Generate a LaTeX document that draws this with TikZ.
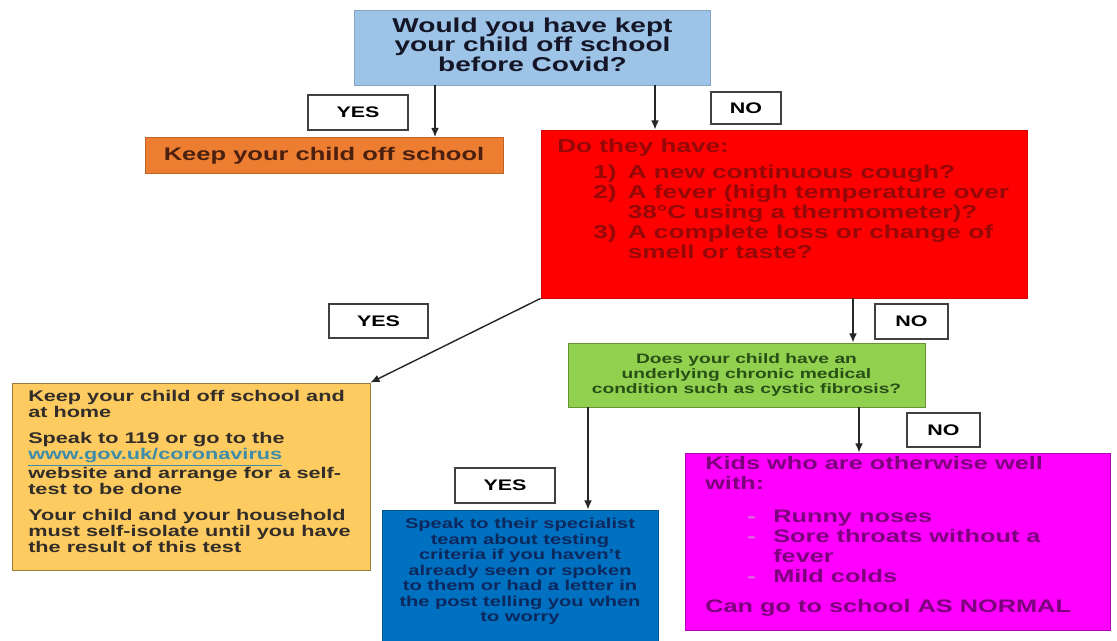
\documentclass[tikz,border=0pt]{standalone}
\usepackage{fontspec}
\setmainfont{Liberation Sans}[FakeStretch=1.4]
\usetikzlibrary{arrows.meta}

\definecolor{qblue}{RGB}{157,195,230}
\definecolor{qtext}{RGB}{20,22,40}
\definecolor{keeporange}{RGB}{237,125,49}
\definecolor{keeptext}{RGB}{75,32,15}
\definecolor{symred}{RGB}{255,0,0}
\definecolor{symtext}{RGB}{150,8,8}
\definecolor{chrgreen}{RGB}{146,208,80}
\definecolor{chrtext}{RGB}{40,80,22}
\definecolor{isoyellow}{RGB}{253,203,96}
\definecolor{isoborder}{RGB}{150,125,60}
\definecolor{isotext}{RGB}{50,45,40}
\definecolor{linkblue}{RGB}{60,140,170}
\definecolor{specblue}{RGB}{0,112,192}
\definecolor{spectext}{RGB}{12,40,92}
\definecolor{normpink}{RGB}{255,0,255}
\definecolor{normtext}{RGB}{125,0,125}
\definecolor{normdash}{RGB}{215,110,215}

\begin{document}
\begin{tikzpicture}[x=0.025cm, y=-0.025cm,
    boxsize/.style 2 args={minimum width=#1*0.025cm, minimum height=#2*0.025cm},
    stepbox/.style={draw, line width=0.6pt, inner sep=0pt, align=center},
    answer/.style={draw=black!75, line width=1.1pt, fill=white, inner sep=0pt,
                   font=\fontsize{10.9}{12}\selectfont\bfseries},
    flow/.style={-{Latex[length=6.5pt,width=5.5pt]}, line width=1pt, black!85},
    symfont/.style={font=\fontsize{13.3}{14.2}\selectfont\bfseries, text=symtext},
    normfont/.style={font=\fontsize{12.86}{14.2}\selectfont\bfseries, text=normtext}]

\useasboundingbox (0,0) rectangle (1117,640);
\fill[white] (0,0) rectangle (1117,640);

% --- Question ---
\node[stepbox, fill=qblue, draw=qblue!85!black, boxsize={356}{75}, text=qtext,
      font=\fontsize{14.25}{13.8}\selectfont\bfseries] (covid) at (532.5,47.5)
      {Would you have kept\\your child off school\\before Covid?\\[-9.4pt]\mbox{}};

\node[answer, boxsize={100}{35}] (yes1) at (358,112.5) {YES};
\node[answer, boxsize={70}{32}] (no1) at (746,108) {NO};

\node[stepbox, fill=keeporange, draw=keeporange!80!black, boxsize={358}{36}, text=keeptext,
      font=\fontsize{12.96}{14}\selectfont\bfseries] (offschool) at (324,155.5)
      {Keep your child off school};

% --- Symptoms ---
\node[stepbox, fill=symred, draw=symred!85!black, boxsize={486}{168}] (symptoms) at (784,214) {};
\node[symfont, anchor=north west, inner sep=0pt] (symtitle) at (557,138.5) {Do they have:};
\node[symfont, anchor=north west, inner sep=0pt] (symlist) at (593,164)
      {\begin{tabular}{@{}l@{\hspace{8pt}}l@{}}
       1) & A new continuous cough?\\
       2) & A fever (high temperature over\\
          & 38°C using a thermometer)?\\
       3) & A complete loss or change of\\
          & smell or taste?
       \end{tabular}};

\node[answer, boxsize={99}{34}] (yes2) at (378.5,321) {YES};
\node[answer, boxsize={73}{35}] (no2) at (911.5,321.5) {NO};

% --- Keep at home ---
\node[stepbox, fill=isoyellow, draw=isoborder, boxsize={358}{187}] (isolate) at (191,476.5) {};
\node[anchor=north west, inner sep=0pt, align=left, text=isotext,
      font=\fontsize{11}{11.6}\selectfont\bfseries] (isolatetext) at (28,390)
      {Keep your child off school and\\at home\\[6.5pt]
       Speak to 119 or go to the\\
       \textcolor{linkblue}{\underline{www.gov.uk/coronavirus}}\\
       website and arrange for a self-\\test to be done\\[6.5pt]
       Your child and your household\\must self-isolate until you have\\the result of this test};

% --- Chronic condition ---
\node[stepbox, fill=chrgreen, draw=chrgreen!70!black, boxsize={357}{64}, text=chrtext,
      font=\fontsize{9.75}{10.7}\selectfont\bfseries] (chronic) at (746.5,375)
      {Does your child have an\\underlying chronic medical\\condition such as cystic fibrosis?};

\node[answer, boxsize={100}{35}] (yes3) at (505,485.5) {YES};
\node[answer, boxsize={73}{34}] (no3) at (943.5,430) {NO};

% --- Specialist team ---
\node[stepbox, fill=specblue, draw=specblue!75!black, boxsize={276}{134}] (specialist) at (520,577) {};
\node[anchor=north, inner sep=0pt, align=center, text=spectext,
      font=\fontsize{10.2}{11}\selectfont\bfseries] (spectext) at (520,518)
      {Speak to their specialist\\team about testing\\criteria if you haven’t\\already seen or spoken\\
       to them or had a letter in\\the post telling you when\\to worry};

% --- School as normal ---
\node[stepbox, fill=normpink, draw=normpink!70!black, boxsize={425}{177}] (normal) at (897.5,541.5) {};
\node[normfont, anchor=north west, inner sep=0pt, align=left] (normtitle) at (705,456)
      {Kids who are otherwise well\\with:};
\node[normfont, anchor=north west, inner sep=0pt] (normlist) at (747,508)
      {\begin{tabular}{@{}l@{\hspace{12.5pt}}l@{}}
       \textcolor{normdash}{-} & Runny noses\\
       \textcolor{normdash}{-} & Sore throats without a\\
                               & fever\\
       \textcolor{normdash}{-} & Mild colds
       \end{tabular}};
\node[normfont, anchor=north west, inner sep=0pt] (normfoot) at (705,599) {Can go to school AS NORMAL};

% --- Arrows ---
\coordinate (stemA) at (435,0);
\coordinate (stemB) at (655,0);
\coordinate (stemC) at (853,0);
\coordinate (stemD) at (588,0);
\coordinate (stemE) at (859,0);

\draw[flow] (covid.south -| stemA) -- (offschool.north -| stemA);
\draw[flow] (covid.south -| stemB) -- (symptoms.north -| stemB);
\draw[flow] (symptoms.south west) -- (isolate.north east);
\draw[flow] (symptoms.south -| stemC) -- (chronic.north -| stemC);
\draw[flow] (chronic.south -| stemD) -- (specialist.north -| stemD);
\draw[flow] (chronic.south -| stemE) -- (normal.north -| stemE);

\end{tikzpicture}
\end{document}
